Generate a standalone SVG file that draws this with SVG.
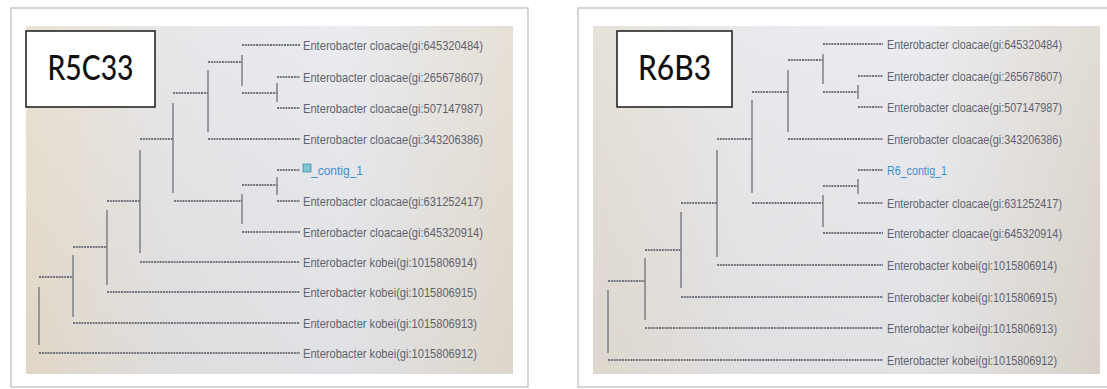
<svg xmlns="http://www.w3.org/2000/svg" width="1107" height="389" viewBox="0 0 1107 389">
  <defs>
    <linearGradient id="photoL" x1="0" y1="0" x2="1" y2="0">
      <stop offset="0" stop-color="#e6dccb"/>
      <stop offset="0.3" stop-color="#e3e3e6"/>
      <stop offset="0.65" stop-color="#e6e8ee"/>
      <stop offset="1" stop-color="#e2dbcf"/>
    </linearGradient>
    <linearGradient id="photoR" x1="0" y1="0" x2="1" y2="0">
      <stop offset="0" stop-color="#e2dcd2"/>
      <stop offset="0.3" stop-color="#e6e6ea"/>
      <stop offset="0.65" stop-color="#e8e9ee"/>
      <stop offset="1" stop-color="#dcd6cd"/>
    </linearGradient>
    <linearGradient id="shade" x1="0" y1="0" x2="0" y2="1">
      <stop offset="0" stop-color="#ffffff" stop-opacity="0.15"/>
      <stop offset="1" stop-color="#b8b0a4" stop-opacity="0.12"/>
    </linearGradient>
  </defs>
  <style>
    .frame { fill: #ffffff; stroke: #c9c9c9; stroke-width: 1.5; }
    .title { fill: #ffffff; stroke: #1a1a1a; stroke-width: 1.5; }
    .titletext { font-family: Lato, "Open Sans", "Liberation Sans", sans-serif; font-size: 34px; font-weight: 500; fill: #111111; text-anchor: middle; }
    .lbl { font-family: "Liberation Sans", Arial, sans-serif; font-size: 12.5px; fill: #5f636e; }
    .contig { font-family: "Liberation Sans", Arial, sans-serif; font-size: 12.5px; fill: #3d8fd0; }
    .h { stroke: #73767e; stroke-width: 1.8; stroke-dasharray: 2 0.8; fill: none; }
    .v { stroke: #7e8188; stroke-width: 1.5; fill: none; }
  </style>

  <!-- Left panel -->
  <g id="panel-left">
    <rect class="frame" x="11" y="8" width="517" height="379"/>
    <rect x="26" y="26" width="487" height="348" fill="url(#photoL)"/>
    <rect x="26" y="26" width="487" height="348" fill="url(#shade)"/>
    <g id="title-left">
      <rect class="title" x="26" y="31" width="129" height="76"/>
      <text class="titletext" x="90.5" y="80" textLength="86" lengthAdjust="spacingAndGlyphs">R5C33</text>
    </g>
    <g id="connectors-left">
      <line class="h" x1="242" y1="45" x2="300" y2="45"/>
      <line class="v" x1="242" y1="55" x2="242" y2="86"/>
      <line class="h" x1="208" y1="62" x2="242" y2="62"/>
      <line class="h" x1="242" y1="93" x2="277" y2="93"/>
      <line class="v" x1="277" y1="83" x2="277" y2="102"/>
      <line class="h" x1="277" y1="77" x2="300" y2="77"/>
      <line class="h" x1="277" y1="108" x2="300" y2="108"/>
      <line class="v" x1="208" y1="70" x2="208" y2="132"/>
      <line class="h" x1="173" y1="93" x2="208" y2="93"/>
      <line class="h" x1="208" y1="139" x2="300" y2="139"/>
      <line class="v" x1="173" y1="103" x2="173" y2="193"/>
      <line class="h" x1="140" y1="139" x2="173" y2="139"/>
      <line class="h" x1="277" y1="170" x2="300" y2="170"/>
      <line class="h" x1="242" y1="185" x2="277" y2="185"/>
      <line class="v" x1="277" y1="177" x2="277" y2="195"/>
      <line class="h" x1="277" y1="201" x2="300" y2="201"/>
      <line class="v" x1="242" y1="194" x2="242" y2="224"/>
      <line class="h" x1="174" y1="201" x2="242" y2="201"/>
      <line class="h" x1="242" y1="232" x2="300" y2="232"/>
      <line class="v" x1="140" y1="150" x2="140" y2="253"/>
      <line class="h" x1="107" y1="201" x2="140" y2="201"/>
      <line class="h" x1="140" y1="262" x2="300" y2="262"/>
      <line class="v" x1="107" y1="210" x2="107" y2="285"/>
      <line class="h" x1="73" y1="247" x2="107" y2="247"/>
      <line class="h" x1="107" y1="292" x2="300" y2="292"/>
      <line class="v" x1="73" y1="255" x2="73" y2="317"/>
      <line class="h" x1="39" y1="277" x2="73" y2="277"/>
      <line class="h" x1="73" y1="323" x2="300" y2="323"/>
      <line class="v" x1="39" y1="287" x2="39" y2="345"/>
      <line class="h" x1="39" y1="353" x2="300" y2="353"/>
    </g>
    <g id="leaf-left-1"><text class="lbl" x="303" y="50" textLength="180" lengthAdjust="spacingAndGlyphs">Enterobacter cloacae(gi:645320484)</text></g>
    <g id="leaf-left-2"><text class="lbl" x="303" y="82" textLength="180" lengthAdjust="spacingAndGlyphs">Enterobacter cloacae(gi:265678607)</text></g>
    <g id="leaf-left-3"><text class="lbl" x="303" y="113" textLength="180" lengthAdjust="spacingAndGlyphs">Enterobacter cloacae(gi:507147987)</text></g>
    <g id="leaf-left-4"><text class="lbl" x="303" y="144" textLength="180" lengthAdjust="spacingAndGlyphs">Enterobacter cloacae(gi:343206386)</text></g>
    <g id="leaf-left-contig">
      <rect x="303" y="164" width="8" height="8" fill="#7fc4cf" stroke="#3a8fb0" stroke-width="0.8"/>
      <text class="contig" x="311" y="175" textLength="52" lengthAdjust="spacingAndGlyphs">_contig_1</text>
    </g>
    <g id="leaf-left-6"><text class="lbl" x="303" y="206" textLength="180" lengthAdjust="spacingAndGlyphs">Enterobacter cloacae(gi:631252417)</text></g>
    <g id="leaf-left-7"><text class="lbl" x="303" y="237" textLength="180" lengthAdjust="spacingAndGlyphs">Enterobacter cloacae(gi:645320914)</text></g>
    <g id="leaf-left-8"><text class="lbl" x="303" y="267" textLength="174" lengthAdjust="spacingAndGlyphs">Enterobacter kobei(gi:1015806914)</text></g>
    <g id="leaf-left-9"><text class="lbl" x="303" y="297" textLength="174" lengthAdjust="spacingAndGlyphs">Enterobacter kobei(gi:1015806915)</text></g>
    <g id="leaf-left-10"><text class="lbl" x="303" y="328" textLength="174" lengthAdjust="spacingAndGlyphs">Enterobacter kobei(gi:1015806913)</text></g>
    <g id="leaf-left-11"><text class="lbl" x="303" y="358" textLength="174" lengthAdjust="spacingAndGlyphs">Enterobacter kobei(gi:1015806912)</text></g>
  </g>

  <!-- Right panel -->
  <g id="panel-right">
    <rect class="frame" x="578" y="8" width="532" height="379"/>
    <rect x="593" y="26" width="507" height="348" fill="url(#photoR)"/>
    <rect x="593" y="26" width="507" height="348" fill="url(#shade)"/>
    <g id="title-right">
      <rect class="title" x="617" y="31" width="115" height="76"/>
      <text class="titletext" x="674.5" y="80" textLength="73" lengthAdjust="spacingAndGlyphs">R6B3</text>
    </g>
    <g id="connectors-right">
      <line class="h" x1="823" y1="44" x2="883" y2="44"/>
      <line class="v" x1="823" y1="54" x2="823" y2="84"/>
      <line class="h" x1="788" y1="60" x2="823" y2="60"/>
      <line class="h" x1="823" y1="92" x2="858" y2="92"/>
      <line class="v" x1="858" y1="85" x2="858" y2="99"/>
      <line class="h" x1="858" y1="76" x2="883" y2="76"/>
      <line class="h" x1="858" y1="107" x2="883" y2="107"/>
      <line class="v" x1="788" y1="70" x2="788" y2="132"/>
      <line class="h" x1="752" y1="92" x2="788" y2="92"/>
      <line class="h" x1="788" y1="139" x2="883" y2="139"/>
      <line class="v" x1="752" y1="100" x2="752" y2="193"/>
      <line class="h" x1="717" y1="139" x2="752" y2="139"/>
      <line class="h" x1="858" y1="170" x2="883" y2="170"/>
      <line class="h" x1="823" y1="186" x2="858" y2="186"/>
      <line class="v" x1="858" y1="179" x2="858" y2="194"/>
      <line class="h" x1="858" y1="203" x2="883" y2="203"/>
      <line class="v" x1="823" y1="195" x2="823" y2="227"/>
      <line class="h" x1="752" y1="203" x2="823" y2="203"/>
      <line class="h" x1="823" y1="233" x2="883" y2="233"/>
      <line class="v" x1="717" y1="150" x2="717" y2="257"/>
      <line class="h" x1="681" y1="203" x2="717" y2="203"/>
      <line class="h" x1="717" y1="265" x2="883" y2="265"/>
      <line class="v" x1="681" y1="212" x2="681" y2="288"/>
      <line class="h" x1="645" y1="250" x2="681" y2="250"/>
      <line class="h" x1="681" y1="297" x2="883" y2="297"/>
      <line class="v" x1="645" y1="258" x2="645" y2="320"/>
      <line class="h" x1="608" y1="281" x2="645" y2="281"/>
      <line class="h" x1="645" y1="328" x2="883" y2="328"/>
      <line class="v" x1="608" y1="290" x2="608" y2="353"/>
      <line class="h" x1="608" y1="360" x2="883" y2="360"/>
    </g>
    <g id="leaf-right-1"><text class="lbl" x="887" y="49" textLength="175" lengthAdjust="spacingAndGlyphs">Enterobacter cloacae(gi:645320484)</text></g>
    <g id="leaf-right-2"><text class="lbl" x="887" y="81" textLength="175" lengthAdjust="spacingAndGlyphs">Enterobacter cloacae(gi:265678607)</text></g>
    <g id="leaf-right-3"><text class="lbl" x="887" y="112" textLength="175" lengthAdjust="spacingAndGlyphs">Enterobacter cloacae(gi:507147987)</text></g>
    <g id="leaf-right-4"><text class="lbl" x="887" y="144" textLength="175" lengthAdjust="spacingAndGlyphs">Enterobacter cloacae(gi:343206386)</text></g>
    <g id="leaf-right-contig"><text class="contig" x="887" y="175" textLength="60" lengthAdjust="spacingAndGlyphs">R6_contig_1</text></g>
    <g id="leaf-right-6"><text class="lbl" x="887" y="208" textLength="175" lengthAdjust="spacingAndGlyphs">Enterobacter cloacae(gi:631252417)</text></g>
    <g id="leaf-right-7"><text class="lbl" x="887" y="238" textLength="175" lengthAdjust="spacingAndGlyphs">Enterobacter cloacae(gi:645320914)</text></g>
    <g id="leaf-right-8"><text class="lbl" x="887" y="270" textLength="170" lengthAdjust="spacingAndGlyphs">Enterobacter kobei(gi:1015806914)</text></g>
    <g id="leaf-right-9"><text class="lbl" x="887" y="302" textLength="170" lengthAdjust="spacingAndGlyphs">Enterobacter kobei(gi:1015806915)</text></g>
    <g id="leaf-right-10"><text class="lbl" x="887" y="333" textLength="170" lengthAdjust="spacingAndGlyphs">Enterobacter kobei(gi:1015806913)</text></g>
    <g id="leaf-right-11"><text class="lbl" x="887" y="365" textLength="170" lengthAdjust="spacingAndGlyphs">Enterobacter kobei(gi:1015806912)</text></g>
  </g>
</svg>
